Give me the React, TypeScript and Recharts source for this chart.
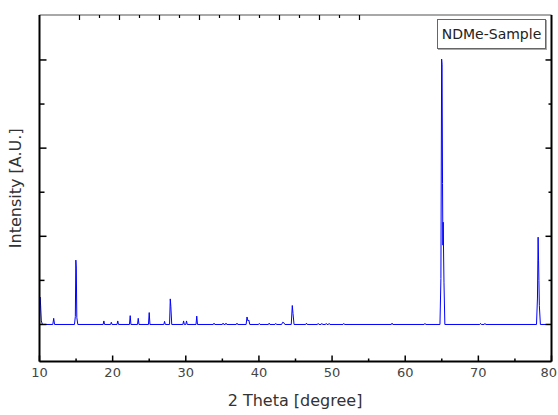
import React from "react";
import { LineChart, Line, XAxis, YAxis, Legend, Label } from "recharts";

// XRD scan of NDMe-Sample
const twoTheta = [
  10.0, 10.08, 10.15, 10.25, 10.4,
  11.82, 11.94, 12.06,
  14.78, 14.9, 14.97, 15.03, 15.1, 15.24,
  18.7, 18.8, 18.9,
  19.72, 19.82, 19.92,
  20.6, 20.7, 20.8,
  22.3, 22.4, 22.5,
  23.4, 23.5, 23.6,
  24.9, 25.0, 25.1,
  27.0, 27.1, 27.2,
  27.78, 27.88, 27.96, 28.08,
  29.6, 29.7, 29.8,
  30.0, 30.1, 30.2,
  31.4, 31.5, 31.6,
  33.76, 33.86, 33.96,
  35.0, 35.1, 35.2,
  35.4, 35.5, 35.6,
  36.9, 37.0, 37.1,
  38.25, 38.37, 38.5, 38.62, 38.75,
  39.95, 40.05, 40.15,
  41.3, 41.4, 41.5,
  42.2, 42.3, 42.4,
  43.1, 43.25, 43.4, 43.55,
  44.42, 44.56, 44.66, 44.8,
  46.4, 46.5, 46.6,
  48.0, 48.1, 48.2,
  48.5, 48.6, 48.7,
  49.1, 49.2, 49.3,
  49.5, 49.6, 49.7,
  51.5, 51.6, 51.7,
  58.1, 58.2, 58.3,
  62.6, 62.7, 62.8,
  64.75, 64.88, 64.98, 65.04, 65.1, 65.15, 65.19, 65.3, 65.42,
  70.2, 70.3, 70.4,
  70.8, 70.9, 71.0,
  77.95, 78.08, 78.17, 78.23, 78.28, 78.34, 78.48,
  80.0,
];

const intensity = [
  60, 310, 220, 40, 0,
  0, 70, 0,
  0, 90, 730, 640, 80, 0,
  0, 40, 0,
  0, 25, 0,
  0, 40, 0,
  0, 100, 0,
  0, 70, 0,
  0, 135, 0,
  0, 35, 0,
  0, 290, 200, 0,
  0, 40, 0,
  0, 40, 0,
  0, 95, 0,
  0, 15, 0,
  0, 15, 0,
  0, 15, 0,
  0, 15, 0,
  0, 85, 40, 50, 0,
  0, 12, 0,
  0, 15, 0,
  0, 12, 0,
  0, 25, 20, 0,
  0, 215, 125, 0,
  0, 15, 0,
  0, 12, 0,
  0, 12, 0,
  0, 12, 0,
  0, 12, 0,
  0, 12, 0,
  0, 15, 0,
  0, 12, 0,
  0, 520, 3010, 2950, 1600, 900, 1160, 480, 0,
  0, 12, 0,
  0, 12, 0,
  0, 300, 990, 730, 500, 215, 0,
  0,
];

const xTicks = [10, 15, 20, 25, 30, 35, 40, 45, 50, 55, 60, 65, 70, 75, 80];
const yTicks = [0, 500, 1000, 1500, 2000, 2500, 3000];
const seriesName = "NDMe-Sample";

const data = twoTheta.map((t, i) => ({ t, v: intensity[i] }));

const FONT = "'DejaVu Sans', sans-serif";

function BottomTick(props: any) {
  const { x, y, payload } = props;
  const major = payload.value % 10 === 0;
  // last label sits at the window edge, keep it inside
  const last = payload.value === 80;
  return (
    <g>
      <line x1={x} y1={y} x2={x} y2={y - (major ? 6 : 3)} stroke="#000" strokeWidth={1.5} />
      {major && (
        <text
          x={last ? 557 : x}
          y={y + 15}
          textAnchor={last ? "end" : "middle"}
          fontSize={13}
          fill="#444"
          fontFamily={FONT}
        >
          {payload.value}
        </text>
      )}
    </g>
  );
}

function TopTick(props: any) {
  const { x, y, payload } = props;
  const major = payload.value % 10 === 0;
  return <line x1={x} y1={y} x2={x} y2={y + (major ? 5 : 3)} stroke="#000" strokeWidth={1.2} />;
}

function LeftTick(props: any) {
  const { x, y, payload } = props;
  const major = payload.value % 1000 === 0;
  return <line x1={x} y1={y} x2={x + (major ? 7 : 5)} y2={y} stroke="#000" strokeWidth={1.5} />;
}

function RightTick(props: any) {
  const { x, y, payload } = props;
  const major = payload.value % 1000 === 0;
  return <line x1={x} y1={y} x2={x - (major ? 6 : 3)} y2={y} stroke="#000" strokeWidth={1.5} />;
}

export default function App() {
  return (
    <div style={{ position: "absolute", left: 0, top: 0, background: "#fff" }}>
      <LineChart
        width={558}
        height={415}
        data={data}
        margin={{ top: 0, right: 0, bottom: 0, left: 0 }}
        style={{ fontFamily: FONT }}
      >
        <XAxis
          dataKey="t"
          type="number"
          domain={[10, 80]}
          ticks={xTicks}
          allowDataOverflow
          height={53.5}
          tickSize={0}
          tickMargin={0}
          tickLine={false}
          tick={<BottomTick />}
          axisLine={{ stroke: "#000", strokeWidth: 2 }}
          interval={0}
        >
          <Label
            content={(p: any) => {
              const vb = p.viewBox;
              return (
                <text x={295} y={vb.y + 44} textAnchor="middle" fontSize={16} fill="#333" fontFamily={FONT}>
                  2 Theta [degree]
                </text>
              );
            }}
          />
        </XAxis>
        <XAxis
          xAxisId="top"
          orientation="top"
          type="number"
          domain={[10, 80]}
          ticks={xTicks}
          allowDataOverflow
          height={15}
          tickSize={0}
          tickMargin={0}
          tickLine={false}
          tick={<TopTick />}
          axisLine={{ stroke: "#a8a8a8", strokeWidth: 2 }}
          interval={0}
        />
        <YAxis
          type="number"
          domain={[-420, 3510]}
          ticks={yTicks}
          allowDataOverflow
          width={39.5}
          tickSize={0}
          tickMargin={0}
          tickLine={false}
          tick={<LeftTick />}
          axisLine={{ stroke: "#000", strokeWidth: 2 }}
          interval={0}
        >
          <Label
            content={(p: any) => {
              const vb = p.viewBox;
              const cx = 15;
              const cy = vb.y + vb.height / 2;
              return (
                <text
                  x={cx}
                  y={cy}
                  transform={`rotate(-90 ${cx} ${cy})`}
                  textAnchor="middle"
                  dominantBaseline="central"
                  fontSize={16}
                  fill="#333"
                  fontFamily={FONT}
                >
                  Intensity [A.U.]
                </text>
              );
            }}
          />
        </YAxis>
        <YAxis
          yAxisId="right"
          orientation="right"
          type="number"
          domain={[-420, 3510]}
          ticks={yTicks}
          allowDataOverflow
          width={6.5}
          tickSize={0}
          tickMargin={0}
          tickLine={false}
          tick={<RightTick />}
          axisLine={{ stroke: "#000", strokeWidth: 2 }}
          interval={0}
        />
        <Legend
          layout="vertical"
          align="center"
          verticalAlign="middle"
          wrapperStyle={{ left: 437, top: 19, width: 109, height: 30 }}
          content={() => (
            <div
              style={{
                boxSizing: "border-box",
                width: 109,
                height: 30,
                border: "1px solid #666",
                boxShadow: "1px 1px 0 #aaa",
                background: "#fff",
                display: "flex",
                alignItems: "center",
                justifyContent: "center",
                fontFamily: FONT,
                fontSize: 14,
                color: "#222",
              }}
            >
              {seriesName}
            </div>
          )}
        />
        <Line
          type="linear"
          dataKey="v"
          name={seriesName}
          stroke="#0000ff"
          strokeWidth={1}
          dot={false}
          activeDot={false}
          isAnimationActive={false}
        />
      </LineChart>
    </div>
  );
}
